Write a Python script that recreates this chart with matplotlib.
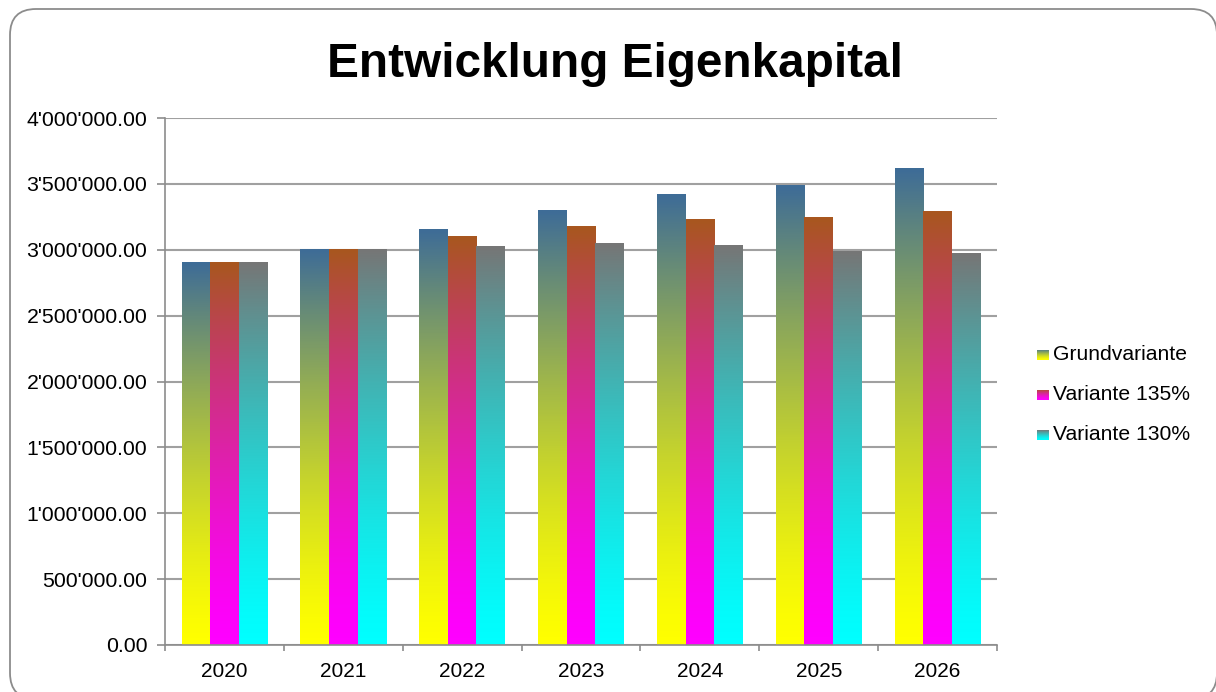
import numpy as np
import matplotlib
matplotlib.use("Agg")
import matplotlib.pyplot as plt
from matplotlib.colors import LinearSegmentedColormap
from matplotlib.patches import FancyBboxPatch
from matplotlib.ticker import FuncFormatter, FixedLocator

plt.rcParams['font.family'] = ['Liberation Sans', 'DejaVu Sans']

years = ["2020", "2021", "2022", "2023", "2024", "2025", "2026"]
grundvariante = [2900000, 3000000, 3157000, 3300000, 3416000, 3491000, 3613000]
variante_135 = [2900000, 3000000, 3097000, 3173000, 3226000, 3241000, 3294000]
variante_130 = [2900000, 3000000, 3028000, 3051000, 3036000, 2990000, 2975000]
series_names = ["Grundvariante", "Variante 135%", "Variante 130%"]

# (bottom colour, top colour) of the gradient fill for each series
gradients = [("#FFFF00", "#3E6C97"), ("#FF00FF", "#A8571F"), ("#00FFFF", "#767676")]

W, H = 1216, 692
fig = plt.figure(figsize=(W / 100, H / 100), dpi=100)

# rounded chart frame, drawn in pixel coordinates (y up)
bg = fig.add_axes([0, 0, 1, 1], zorder=-1)
bg.set_xlim(0, W)
bg.set_ylim(0, H)
bg.set_axis_off()
bg.add_patch(FancyBboxPatch((10, H - 699), 1207, 690, boxstyle="round,pad=0,rounding_size=26",
                            facecolor="none", edgecolor="#8C8C8C", linewidth=1.3, clip_on=False))

ax = fig.add_axes([165 / W, (H - 645) / H, (997 - 165) / W, (645 - 118) / H])
ax.patch.set_alpha(0)

# ramp: bright colour stays longer near the bottom
ramp = (np.linspace(0, 1, 256) ** 1.4).reshape(-1, 1)
cmaps = [LinearSegmentedColormap.from_list(f"g{i}", list(c)) for i, c in enumerate(gradients)]

width = 0.24
x = np.arange(len(years))
for i, vals in enumerate([grundvariante, variante_135, variante_130]):
    bars = ax.bar(x + (i - 1) * width, vals, width, color="none", edgecolor="none", zorder=2)
    for b in bars:
        x0 = b.get_x()
        ax.imshow(ramp, cmap=cmaps[i], origin="lower", aspect="auto", vmin=0, vmax=1,
                  extent=(x0, x0 + b.get_width(), 0, b.get_height()), zorder=2)

ax.set_xlim(-0.5, len(years) - 0.5)
ax.set_ylim(0, 4000000)
ax.set_yticks(np.arange(0, 4000001, 500000))
ax.yaxis.set_major_formatter(FuncFormatter(lambda v, p: f"{v:,.2f}".replace(",", "'")))
ax.set_xticks(x)
ax.set_xticklabels(years)
ax.xaxis.set_minor_locator(FixedLocator(np.arange(-0.5, len(years), 1)))
ax.tick_params(axis="x", which="major", length=0, labelsize=15, pad=12)
ax.tick_params(axis="x", which="minor", length=4.5, color="#8C8C8C", width=1.2)
ax.tick_params(axis="y", length=5.8, color="#8C8C8C", width=1.2, labelsize=15.3, pad=7)

ax.grid(axis="y", color="#A0A0A0", linewidth=1.5, zorder=0)
ax.set_axisbelow(True)
for s in ["top", "right"]:
    ax.spines[s].set_visible(False)
for s in ["left", "bottom"]:
    ax.spines[s].set_color("#8C8C8C")
    ax.spines[s].set_linewidth(1.2)

fig.text(615 / W, 1 - 77 / H, "Entwicklung Eigenkapital", ha="center", va="baseline",
         fontsize=34.4, fontweight="bold")

# legend with gradient markers
for i, name in enumerate(series_names):
    yc = 355 + 40 * i
    lax = fig.add_axes([1037 / W, 1 - (yc + 5) / H, 12 / W, 10 / H])
    lax.imshow(ramp, cmap=cmaps[i], origin="lower", aspect="auto", vmin=0, vmax=1)
    lax.set_axis_off()
    fig.text(1053 / W, 1 - yc / H, name, ha="left", va="center", fontsize=15.2)

fig.savefig("out.png", dpi=100)
